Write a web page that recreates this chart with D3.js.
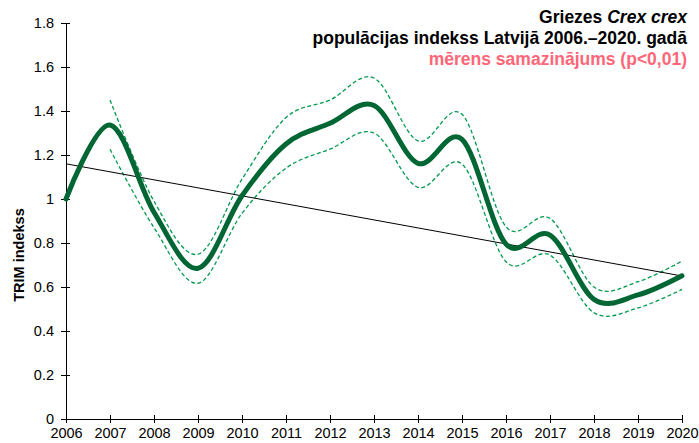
<!DOCTYPE html>
<html>
<head>
<meta charset="utf-8">
<script src="https://cdn.jsdelivr.net/npm/d3@7"></script>
<style>
  body { margin: 0; background: #fff; }
  text { font-family: "Liberation Sans", Arial, sans-serif; }
</style>
</head>
<body>
<div id="chart"></div>
<script>
var years = [2006, 2007, 2008, 2009, 2010, 2011, 2012, 2013, 2014, 2015, 2016, 2017, 2018, 2019, 2020];
var indexValues = [1.0, 1.336, 0.94, 0.685, 1.015, 1.25, 1.344, 1.425, 1.162, 1.271, 0.795, 0.836, 0.544, 0.564, 0.651];
var upperValues = [null, 1.45, 0.99, 0.749, 1.09, 1.37, 1.45, 1.55, 1.264, 1.385, 0.874, 0.912, 0.60, 0.624, 0.718];
var lowerValues = [null, 1.226, 0.87, 0.617, 0.935, 1.14, 1.227, 1.30, 1.053, 1.159, 0.715, 0.745, 0.483, 0.505, 0.589];
var trendValues = [1.16, 0.65];
var yTicks = [0, 0.2, 0.4, 0.6, 0.8, 1, 1.2, 1.4, 1.6, 1.8];

var width = 699, height = 443;
var margin = { left: 66, right: 17, top: 23, bottom: 24 };

var svg = d3.select("#chart")
    .append("svg")
    .attr("width", width)
    .attr("height", height);

var x = d3.scaleLinear()
    .domain([2006, 2020])
    .range([margin.left, width - margin.right]);

var y = d3.scaleLinear()
    .domain([0, 1.8])
    .range([height - margin.bottom, margin.top]);

// axes
var yAxis = svg.append("g")
    .attr("transform", "translate(" + margin.left + ",0)")
    .call(d3.axisLeft(y).tickValues(yTicks).tickSize(5).tickSizeOuter(0)
        .tickFormat(function(d) { return d3.format("")(+d.toFixed(1)); }));

var xAxis = svg.append("g")
    .attr("transform", "translate(0," + y(0) + ")")
    .call(d3.axisBottom(x).tickValues(years).tickSize(0).tickSizeOuter(0)
        .tickFormat(d3.format("d")));

xAxis.selectAll(".tick line").remove();
xAxis.selectAll(".tick").append("line")
    .attr("y1", -4).attr("y2", 4)
    .attr("stroke", "#000");

[yAxis, xAxis].forEach(function(a) {
    a.select(".domain").attr("stroke", "#000");
    a.selectAll("text")
        .attr("font-size", 14.5)
        .attr("fill", "#000")
        .style("font-family", "'Liberation Sans', Arial, sans-serif");
});
yAxis.selectAll(".tick line").attr("x2", 4).attr("x1", -5).attr("stroke", "#000");
yAxis.selectAll(".tick text").attr("x", -12);
xAxis.selectAll(".tick text").attr("y", 9);

// y label
svg.append("text")
    .attr("transform", "translate(24,255) rotate(-90)")
    .attr("text-anchor", "middle")
    .attr("font-size", 14.5)
    .attr("font-weight", "bold")
    .text("TRIM indekss");

var line = d3.line()
    .defined(function(d) { return d[1] !== null; })
    .x(function(d) { return x(d[0]); })
    .y(function(d) { return y(d[1]); })
    .curve(d3.curveCardinal.tension(0));

function pairs(vals) {
    return years.map(function(yr, i) { return [yr, vals[i]]; })
        .filter(function(d) { return d[1] !== null; });
}

svg.append("path")
    .datum(pairs(upperValues))
    .attr("d", line)
    .attr("fill", "none")
    .attr("stroke", "#00994d")
    .attr("stroke-width", 1.3)
    .attr("stroke-dasharray", "4,2.5");

svg.append("path")
    .datum(pairs(lowerValues))
    .attr("d", line)
    .attr("fill", "none")
    .attr("stroke", "#00994d")
    .attr("stroke-width", 1.3)
    .attr("stroke-dasharray", "4,2.5");

// trend line
svg.append("line")
    .attr("x1", x(2006)).attr("y1", y(trendValues[0]))
    .attr("x2", x(2020)).attr("y2", y(trendValues[1]))
    .attr("stroke", "#000")
    .attr("stroke-width", 1);

svg.append("path")
    .datum(pairs(indexValues))
    .attr("d", line)
    .attr("fill", "none")
    .attr("stroke", "#006633")
    .attr("stroke-width", 5)
    .attr("stroke-linecap", "round");

// title
var title = svg.append("g")
    .attr("text-anchor", "end")
    .attr("font-size", 17.5)
    .attr("font-weight", "bold");

var t1 = title.append("text").attr("x", 687).attr("y", 23);
t1.append("tspan").text("Griezes ");
t1.append("tspan").attr("font-style", "italic").text("Crex crex");

title.append("text").attr("x", 687).attr("y", 44)
    .text("populācijas indekss Latvijā 2006.–2020. gadā");

title.append("text").attr("x", 687).attr("y", 65)
    .attr("fill", "#ff6677")
    .text("mērens samazinājums (p<0,01)");
</script>
</body>
</html>
